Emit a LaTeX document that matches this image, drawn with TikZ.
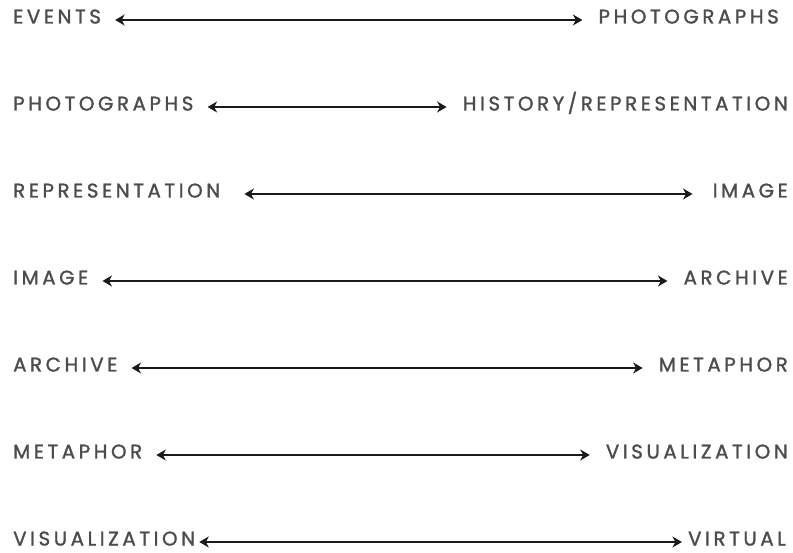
\documentclass[tikz,border=0pt]{standalone}
\usepackage{fontspec}
\newfontfamily\lblfont[LetterSpace=18, FakeBold=1.4]{Poppins}
\usepackage{tikz}
\usetikzlibrary{positioning, arrows.meta}

\definecolor{labelgray}{HTML}{4C4C4C}
\definecolor{arrowdark}{HTML}{1A1A1A}

\begin{document}
\begin{tikzpicture}[
    x=1pt, y=1pt,
    lbl/.style={inner xsep=0pt, inner ysep=0pt, text height=0.7em, text depth=0pt, text=labelgray, font=\lblfont\fontsize{19.8}{21}\selectfont},
    leftlbl/.style={lbl, anchor=west},
    rightlbl/.style={lbl, anchor=east},
    arrow/.style={{Stealth[length=9.5pt, width=11pt, inset=3pt]}-{Stealth[length=9.5pt, width=11pt, inset=3pt]}, line width=2.2pt, draw=arrowdark, shorten <=14pt, shorten >=16pt}
]
\useasboundingbox (0,0) rectangle (793,552);

% Left column
\node[leftlbl] (l_events) at (13,532) {EVENTS};
\node[leftlbl] (l_photo) at (13,445) {PHOTOGRAPHS};
\node[leftlbl] (l_repr) at (13,358) {REPRESENTATION};
\node[leftlbl] (l_image) at (13,271) {IMAGE};
\node[leftlbl] (l_archive) at (13,184) {ARCHIVE};
\node[leftlbl] (l_metaphor) at (13,97) {METAPHOR};
\node[leftlbl] (l_visual) at (13,10) {VISUALIZATION};

% Right column
\node[rightlbl] (r_photo) at (779,532) {PHOTOGRAPHS};
\node[rightlbl] (r_history) at (788,445) {HISTORY/REPRESENTATION};
\node[rightlbl] (r_image) at (788,358) {IMAGE};
\node[rightlbl] (r_archive) at (788,271) {ARCHIVE};
\node[rightlbl] (r_metaphor) at (788,184) {METAPHOR};
\node[rightlbl] (r_visual) at (788,97) {VISUALIZATION};
\node[rightlbl] (r_virtual) at (786,10) {VIRTUAL};

% Pairs
\draw[arrow] (l_events) -- (r_photo);
\draw[arrow] (l_photo) -- (r_history);
\draw[arrow, shorten <=24pt, shorten >=20pt] (l_repr) -- (r_image);
\draw[arrow] (l_image) -- (r_archive);
\draw[arrow] (l_archive) -- (r_metaphor);
\draw[arrow] (l_metaphor) -- (r_visual);
\draw[arrow, shorten <=4pt, shorten >=6pt] (l_visual) -- (r_virtual);

\end{tikzpicture}
\end{document}
